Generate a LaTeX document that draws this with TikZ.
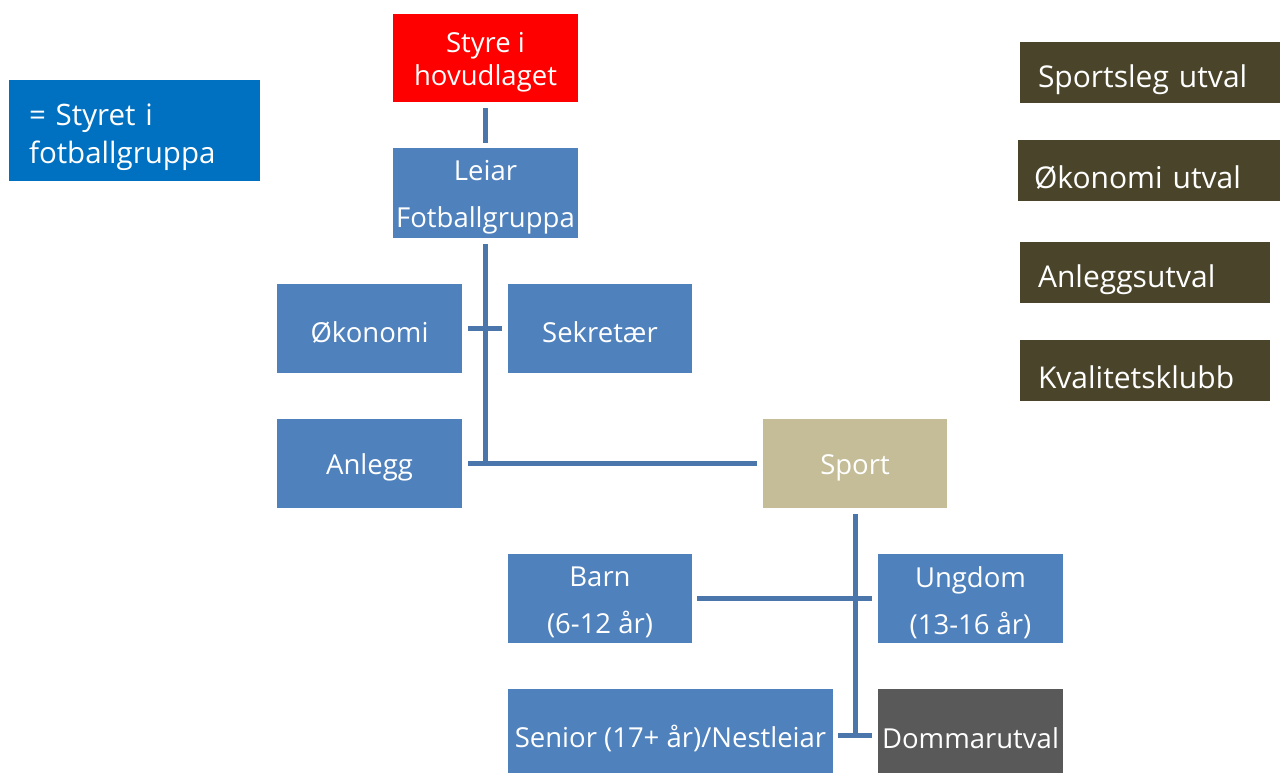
\documentclass[tikz,border=0pt]{standalone}
\usepackage{fontspec}
\setmainfont{Open Sans}
\definecolor{boxblue}{HTML}{4F81BD}
\definecolor{linkblue}{HTML}{4A76AC}
\definecolor{sportcol}{HTML}{C4BD97}
\definecolor{dommcol}{HTML}{595959}
\definecolor{olivebox}{HTML}{4A452A}
\definecolor{legendblue}{HTML}{0070C0}
\begin{document}
\begin{tikzpicture}[x=1pt,y=-1pt,
  orgbox/.style={fill=boxblue,inner sep=0pt,minimum width=185pt,minimum height=89pt},
  boxtext/.style={text=white,inner sep=0pt,align=center,yshift=-4pt,font=\fontsize{27.5}{47}\selectfont},
  conn/.style={draw=linkblue,line width=5pt},
  utvalbox/.style={fill=olivebox,inner sep=0pt,minimum height=61pt},
  utvaltext/.style={text=white,inner sep=0pt,align=left,yshift=-7pt,font=\fontsize{30}{36}\selectfont}
]
\useasboundingbox (0,0) rectangle (1280,773);
\node[orgbox,fill=red,minimum height=88pt,label={[boxtext,font=\fontsize{27.5}{33}\selectfont]center:{Styre i\\hovudlaget}}] (styre) at (485.5,58) {};
\node[orgbox,minimum height=90pt,label={[boxtext]center:{Leiar\\Fotballgruppa}}] (leiar) at (485.5,193) {};
\node[orgbox,label={[boxtext]center:Økonomi}] (oek) at (369.5,328.5) {};
\node[orgbox,minimum width=184pt,label={[boxtext]center:Sekretær}] (sekr) at (600,328.5) {};
\node[orgbox,label={[boxtext]center:Anlegg}] (anlegg) at (369.5,463.5) {};
\node[orgbox,fill=sportcol,minimum width=184pt,label={[boxtext]center:Sport}] (sport) at (855,463.5) {};
\node[orgbox,minimum width=184pt,label={[boxtext]center:{Barn\\(6-12 år)}}] (barn) at (600,598.5) {};
\node[orgbox,label={[boxtext]center:{Ungdom\\(13-16 år)}}] (ungdom) at (970.5,598.5) {};
\node[orgbox,minimum width=325pt,label={[boxtext,yshift=-1pt]center:{Senior (17+ år)/Nestleiar}}] (senior) at (670.5,733.5) {};
\node[orgbox,fill=dommcol,label={[boxtext,yshift=-1pt]center:Dommarutval}] (dommar) at (970.5,733.5) {};
\node[fill=legendblue,inner sep=0pt,minimum width=251pt,minimum height=101pt,
  label={[utvaltext,text width=211pt,font=\fontsize{29.5}{38}\selectfont]center:{= Styret i\\fotballgruppa}}] (legend) at (134.5,130.5) {};
\node[utvalbox,minimum width=260pt,label={[utvaltext,text width=224pt]center:Sportsleg utval}] (sportsleg) at (1150,72.5) {};
\node[utvalbox,minimum width=262pt,label={[utvaltext,text width=230pt]center:Økonomi utval}] (oekutval) at (1149,170.5) {};
\node[utvalbox,minimum width=250pt,label={[utvaltext,text width=214pt]center:Anleggsutval}] (anlutval) at (1145,272.5) {};
\node[utvalbox,minimum width=250pt,label={[utvaltext,text width=214pt]center:Kvalitetsklubb}] (kval) at (1145,370.5) {};
% connectors
\draw[conn] ([yshift=-6pt]styre.south) -- ([yshift=5pt]leiar.north);
\draw[conn] ([yshift=-6pt]leiar.south) -- ([yshift=-2.5pt]leiar.south |- anlegg.east);
\draw[conn] ([xshift=6pt]oek.east) -- ([xshift=-6pt]sekr.west);
\draw[conn] ([xshift=6pt]anlegg.east) -- ([xshift=-6pt]sport.west);
\draw[conn] ([yshift=-6pt]sport.south) -- ([yshift=-4pt]sport.south |- dommar.west);
\draw[conn] ([xshift=5pt]barn.east) -- ([xshift=-6pt]ungdom.west);
\draw[conn] ([xshift=5pt,yshift=-1.5pt]senior.east) -- ([xshift=-6pt,yshift=-1.5pt]dommar.west);
\end{tikzpicture}
\end{document}
